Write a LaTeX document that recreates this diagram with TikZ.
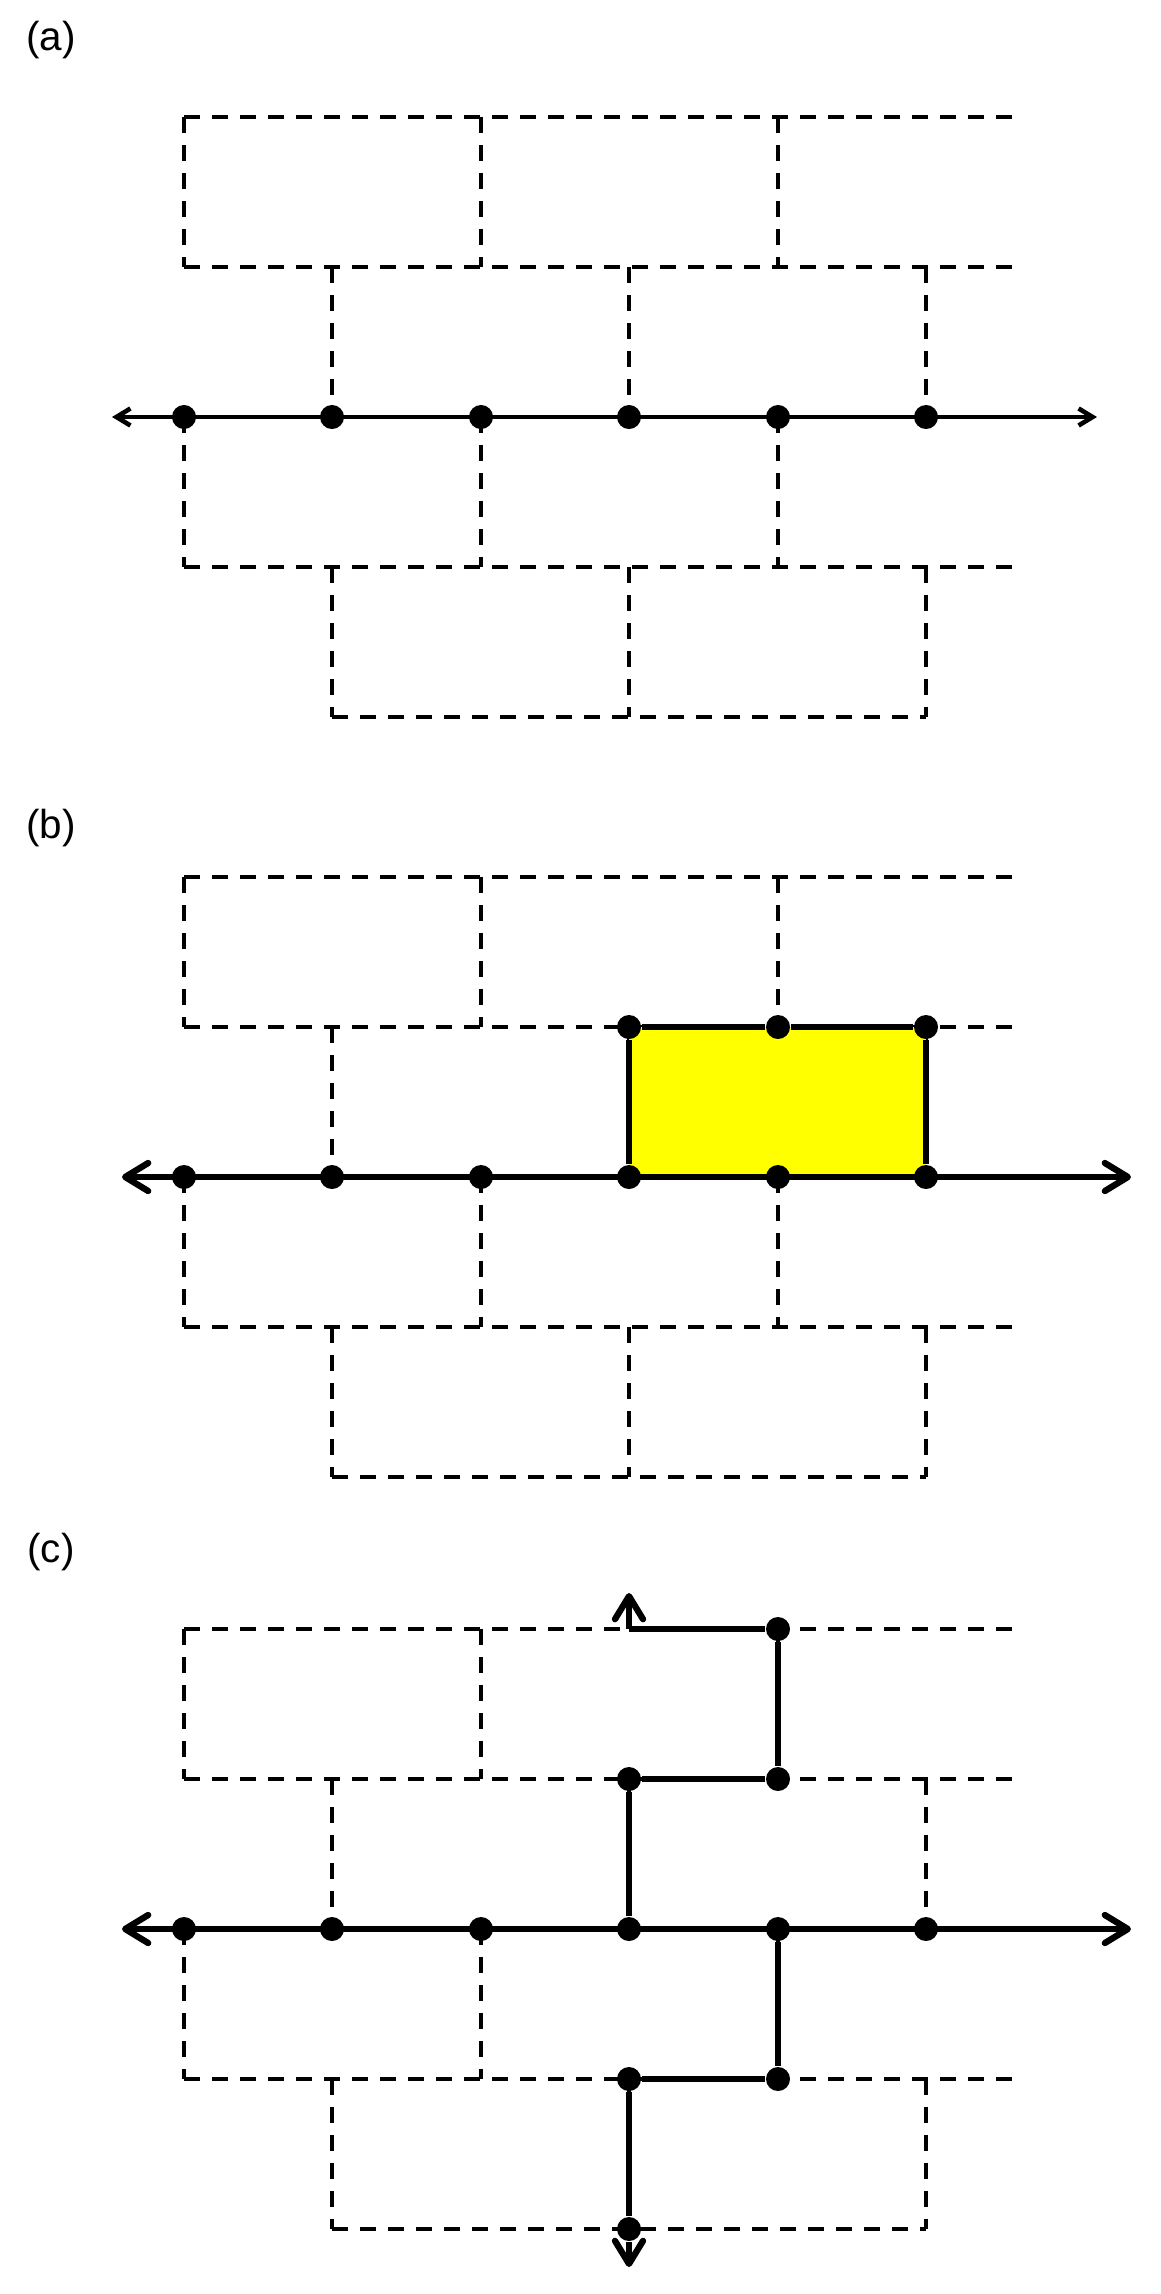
\documentclass[tikz,border=0pt]{standalone}
\usepackage{fontspec}
\setmainfont{Liberation Sans}
\usetikzlibrary{arrows.meta}
\definecolor{brickyellow}{RGB}{255,255,0}

\newcommand{\brickwall}{%
    \foreach \r in {0,150,300,450} \draw[brick](184,\r)--(1016,\r);
    \draw[brick](332,600)--(926,600);
    \foreach \x in {184,481,778} {\draw[brick](\x,0)--(\x,150); \draw[brick](\x,300)--(\x,450);}
    \foreach \x in {332,629,926} {\draw[brick](\x,150)--(\x,300); \draw[brick](\x,450)--(\x,600);}
}

\begin{document}
\begin{tikzpicture}[x=0.01cm,y=-0.01cm,
    brick/.style={line width=1.14pt, dash pattern=on 0.16cm off 0.12cm},
    dot/.style={circle, fill=black, inner sep=0pt, minimum size=0.24cm},
    axisthin/.style={line width=1.3pt, {Straight Barb[length=1.4mm,width=1.7mm]}-{Straight Barb[length=1.4mm,width=1.7mm]}},
    axisbold/.style={line width=1.8pt, {Straight Barb[length=2.3mm,width=2.8mm,round]}-{Straight Barb[length=2.3mm,width=2.8mm,round]}},
    route/.style={line width=1.8pt},
    routearrow/.style={line width=1.8pt, -{Straight Barb[length=2.3mm,width=2.8mm,round]}},
    panellabel/.style={font=\fontsize{11.5}{13}\selectfont}]
    \useasboundingbox (0,0) rectangle (1161,2294);

    % (a)
    \node[panellabel](labela) at (51,40){(a)};
    \begin{scope}[shift={(0,117)}]
        \brickwall
        \foreach \x [count=\i from 0] in {184,332,481,629,778,926} \node[dot](a\i) at (\x,300){};
        \coordinate (aL) at (112,300);
        \coordinate (aR) at (1097,300);
        \draw[axisthin](aL)--(aR);
    \end{scope}

    % (b)
    \node[panellabel](labelb) at (51,828){(b)};
    \begin{scope}[shift={(0,877)}]
        \brickwall
        \fill[brickyellow](629,150) rectangle (926,300);
        \foreach \x [count=\i from 0] in {184,332,481,629,778,926} \node[dot](b\i) at (\x,300){};
        \node[dot](bt3) at (629,150){};
        \node[dot](bt4) at (778,150){};
        \node[dot](bt5) at (926,150){};
        \coordinate (bL) at (122,300);
        \coordinate (bR) at (1131,300);
        \draw[axisbold](bL)--(bR);
        \draw[route](b3)--(bt3)--(bt4)--(bt5)--(b5);
    \end{scope}

    % (c)
    \node[panellabel](labelc) at (51,1552){(c)};
    \begin{scope}[shift={(0,1629)}]
        \brickwall
        \foreach \x [count=\i from 0] in {184,332,481,629,778,926} \node[dot](c\i) at (\x,300){};
        \node[dot](cq4) at (778,0){};
        \node[dot](cr3) at (629,150){};
        \node[dot](cr4) at (778,150){};
        \node[dot](cs3) at (629,450){};
        \node[dot](cs4) at (778,450){};
        \node[dot](cv3) at (629,600){};
        \coordinate (cTop) at (629,0);
        \coordinate (cUp) at (629,-36);
        \coordinate (cDown) at (629,638);
        \coordinate (cL) at (122,300);
        \coordinate (cR) at (1131,300);
        \draw[axisbold](cL)--(cR);
        \draw[routearrow](cTop)--(cUp);
        \draw[route](cTop)--(cq4)--(cr4)--(cr3)--(c3);
        \draw[route](c4)--(cs4)--(cs3)--(cv3);
        \draw[routearrow](cv3)--(cDown);
    \end{scope}
\end{tikzpicture}
\end{document}
